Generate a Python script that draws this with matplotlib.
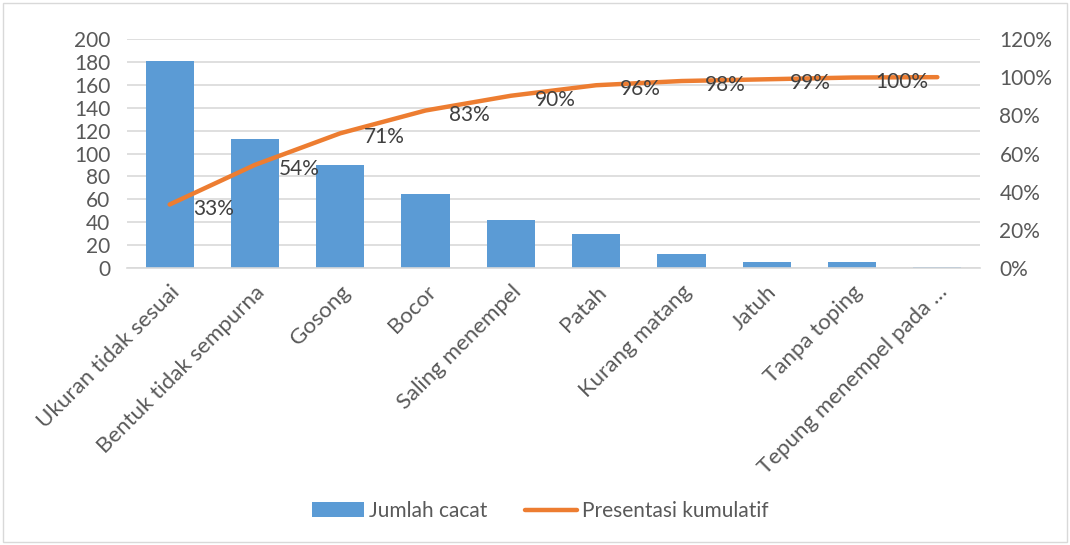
import numpy as np
import matplotlib.pyplot as plt
from matplotlib.patches import Rectangle

plt.rcParams['font.family'] = ['Lato', 'DejaVu Sans']

# data
categories = ['Ukuran tidak sesuai', 'Bentuk tidak sempurna', 'Gosong', 'Bocor',
              'Saling menempel', 'Patah', 'Kurang matang', 'Jatuh', 'Tanpa toping',
              'Tepung menempel pada …']
jumlah_cacat = [181, 113, 90, 65, 42, 30, 12, 5, 5, 1]

kumulatif = np.cumsum(jumlah_cacat) / np.sum(jumlah_cacat)

grey_txt = '#595959'
blue = '#5B9BD5'
orange = '#ED7D31'
fs = 15

fig = plt.figure(figsize=(10.7, 5.45), dpi=100)
ax = fig.add_axes([127/1070, 1-268/545, (980-127)/1070, (268-39)/545])
x = np.arange(len(categories))

ax.bar(x, jumlah_cacat, width=0.565, color=blue, label='Jumlah cacat', zorder=2)
ax.set_xlim(-0.5, len(categories)-0.5)
ax.set_ylim(0, 200)
ax.set_yticks(range(0, 201, 20))
ax.yaxis.grid(True, color='#D9D9D9', linewidth=1.2, zorder=0)
ax.set_axisbelow(True)
for s in ['top', 'right', 'left']:
    ax.spines[s].set_visible(False)
ax.spines['bottom'].set_color('#D9D9D9')
ax.spines['bottom'].set_linewidth(1.2)
ax.tick_params(axis='both', length=0, labelsize=fs, labelcolor=grey_txt)
ax.tick_params(axis='y', pad=12)
ax.set_xticks(x)
ax.set_xticklabels(categories, rotation=45, ha='right', rotation_mode='anchor', fontsize=16)
ax.tick_params(axis='x', pad=10)

ax2 = ax.twinx()
ax2.plot(x, kumulatif, color=orange, linewidth=3.2, solid_capstyle='round',
         label='Presentasi kumulatif', zorder=3)
ax2.set_ylim(0, 1.2)
ax2.set_yticks(np.arange(0, 1.21, 0.2))
ax2.set_yticklabels([f'{int(round(v*100))}%' for v in np.arange(0, 1.21, 0.2)])
for s in ['top', 'right', 'left', 'bottom']:
    ax2.spines[s].set_visible(False)
ax2.tick_params(axis='y', length=0, labelsize=fs, labelcolor=grey_txt, pad=14)

for xi, v in zip(x[:-1], kumulatif[:-1]):
    ax2.annotate(f'{v*100:.0f}%', (xi, v), xytext=(17, -3), textcoords='offset points',
                 ha='left', va='center', fontsize=fs, color='#404040')

h1, l1 = ax.get_legend_handles_labels()
h2, l2 = ax2.get_legend_handles_labels()
fig.legend(h1 + h2, l1 + l2, loc='center', bbox_to_anchor=(0.505, 1-511/545), ncol=2,
           frameon=False, fontsize=fs, labelcolor=grey_txt, handlelength=2.5,
           columnspacing=1.8, handletextpad=0.25)

fig.patches.append(Rectangle((0.003, 0.005), 0.994, 0.99, transform=fig.transFigure,
                             fill=False, edgecolor='#D9D9D9', linewidth=1))

fig.savefig('out.png', dpi=100)
